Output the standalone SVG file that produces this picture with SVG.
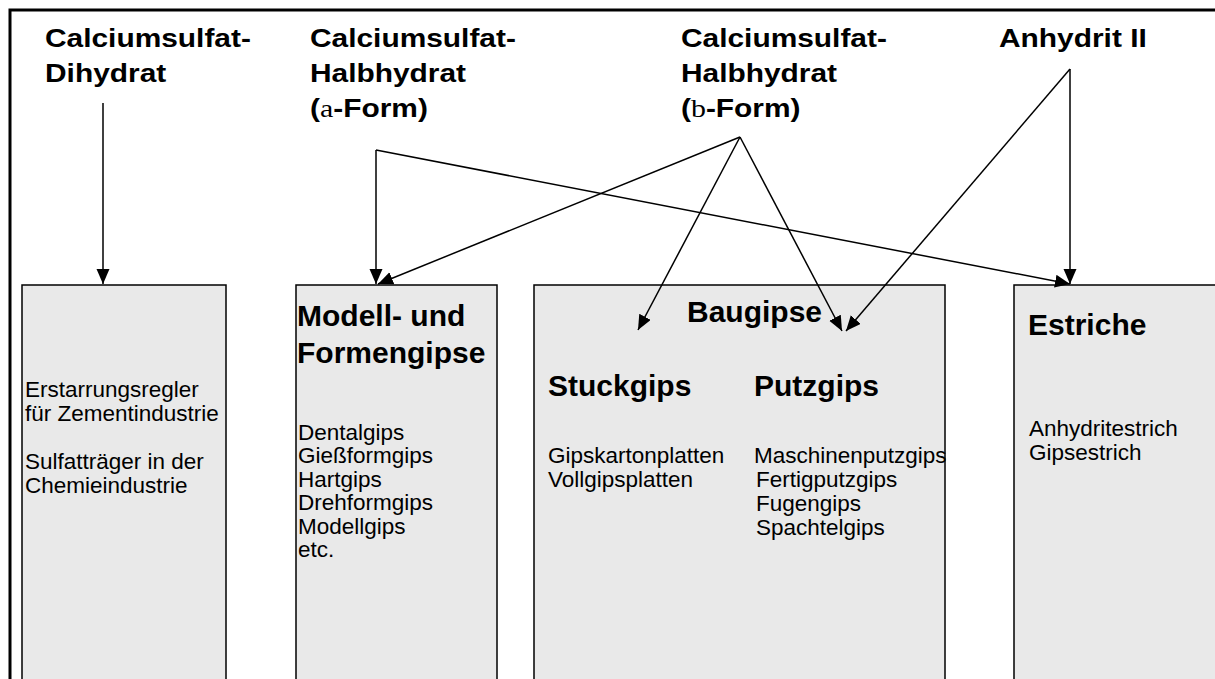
<svg xmlns="http://www.w3.org/2000/svg" width="1215" height="679" viewBox="0 0 1215 679">
<style>
.frame{fill:none;stroke:#000;stroke-width:3}
.box{fill:#e9e9e9;stroke:#000;stroke-width:1.5}
.title{font-family:"Liberation Sans",Arial,sans-serif;font-weight:bold;font-size:26px;fill:#000}
.sym{font-family:"Liberation Serif","Times New Roman",serif;font-weight:normal}
.head{font-family:"Liberation Sans",Arial,sans-serif;font-weight:bold;font-size:30px;fill:#000}
.txt{font-family:"Liberation Sans",Arial,sans-serif;font-size:22.5px;fill:#000}
.conn{fill:none;stroke:#000;stroke-width:1.5}
</style>
<defs>
<marker id="ah" markerUnits="userSpaceOnUse" markerWidth="16" markerHeight="14" refX="15" refY="6.5" orient="auto">
<path d="M0,0 L15,6.5 L0,13 z" fill="#000"/>
</marker>
</defs>
<rect x="0" y="0" width="1215" height="679" fill="#fff"/>
<path class="frame" d="M10,679 V10 H1215"/>

<g id="title-dihydrat" transform="translate(45 0) scale(1.15 1)">
<text class="title" x="0" y="47">Calciumsulfat-</text>
<text class="title" x="0" y="82">Dihydrat</text>
</g>
<g id="title-alpha" transform="translate(310 0) scale(1.15 1)">
<text class="title" x="0" y="47">Calciumsulfat-</text>
<text class="title" x="0" y="82">Halbhydrat</text>
<text class="title" x="0" y="117">(<tspan class="sym">a</tspan>-Form)</text>
</g>
<g id="title-beta" transform="translate(681 0) scale(1.15 1)">
<text class="title" x="0" y="47">Calciumsulfat-</text>
<text class="title" x="0" y="82">Halbhydrat</text>
<text class="title" x="0" y="117">(<tspan class="sym">b</tspan>-Form)</text>
</g>
<g id="title-anhydrit" transform="translate(999 0) scale(1.15 1)">
<text class="title" x="0" y="47">Anhydrit II</text>
</g>

<g id="box-industrie">
<rect class="box" x="22" y="285" width="204" height="400"/>
<text class="txt" x="25" y="397">Erstarrungsregler</text>
<text class="txt" x="25" y="421">für Zementindustrie</text>
<text class="txt" x="25" y="469">Sulfatträger in der</text>
<text class="txt" x="25" y="493">Chemieindustrie</text>
</g>

<g id="box-modell">
<rect class="box" x="296" y="285" width="201" height="400"/>
<text class="head" x="297" y="326">Modell- und</text>
<text class="head" x="297" y="363">Formengipse</text>
<text class="txt" x="298" y="440">Dentalgips</text>
<text class="txt" x="298" y="463">Gießformgips</text>
<text class="txt" x="298" y="487">Hartgips</text>
<text class="txt" x="298" y="510">Drehformgips</text>
<text class="txt" x="298" y="534">Modellgips</text>
<text class="txt" x="298" y="557">etc.</text>
</g>

<g id="box-baugipse">
<rect class="box" x="534" y="285" width="411" height="400"/>
<text class="head" x="687" y="322">Baugipse</text>
<text class="head" x="548" y="396">Stuckgips</text>
<text class="head" x="754" y="396">Putzgips</text>
<text class="txt" x="548" y="463">Gipskartonplatten</text>
<text class="txt" x="548" y="487">Vollgipsplatten</text>
<text class="txt" x="754" y="463">Maschinenputzgips</text>
<text class="txt" x="756" y="487">Fertigputzgips</text>
<text class="txt" x="756" y="511">Fugengips</text>
<text class="txt" x="756" y="535">Spachtelgips</text>
</g>

<g id="box-estriche">
<rect class="box" x="1014" y="285" width="220" height="400"/>
<text class="head" x="1028" y="335">Estriche</text>
<text class="txt" x="1029" y="436">Anhydritestrich</text>
<text class="txt" x="1029" y="460">Gipsestrich</text>
</g>

<g id="connectors">
<path class="conn" d="M103,103 V284" marker-end="url(#ah)"/>
<path class="conn" d="M376,150 V284" marker-end="url(#ah)"/>
<path class="conn" d="M376,150 L1070,284" marker-end="url(#ah)"/>
<path class="conn" d="M740,137 L378,284" marker-end="url(#ah)"/>
<path class="conn" d="M740,137 L638,330" marker-end="url(#ah)"/>
<path class="conn" d="M740,137 L842,331" marker-end="url(#ah)"/>
<path class="conn" d="M1070,69 V284" marker-end="url(#ah)"/>
<path class="conn" d="M1070,69 L846,331" marker-end="url(#ah)"/>
</g>
</svg>
